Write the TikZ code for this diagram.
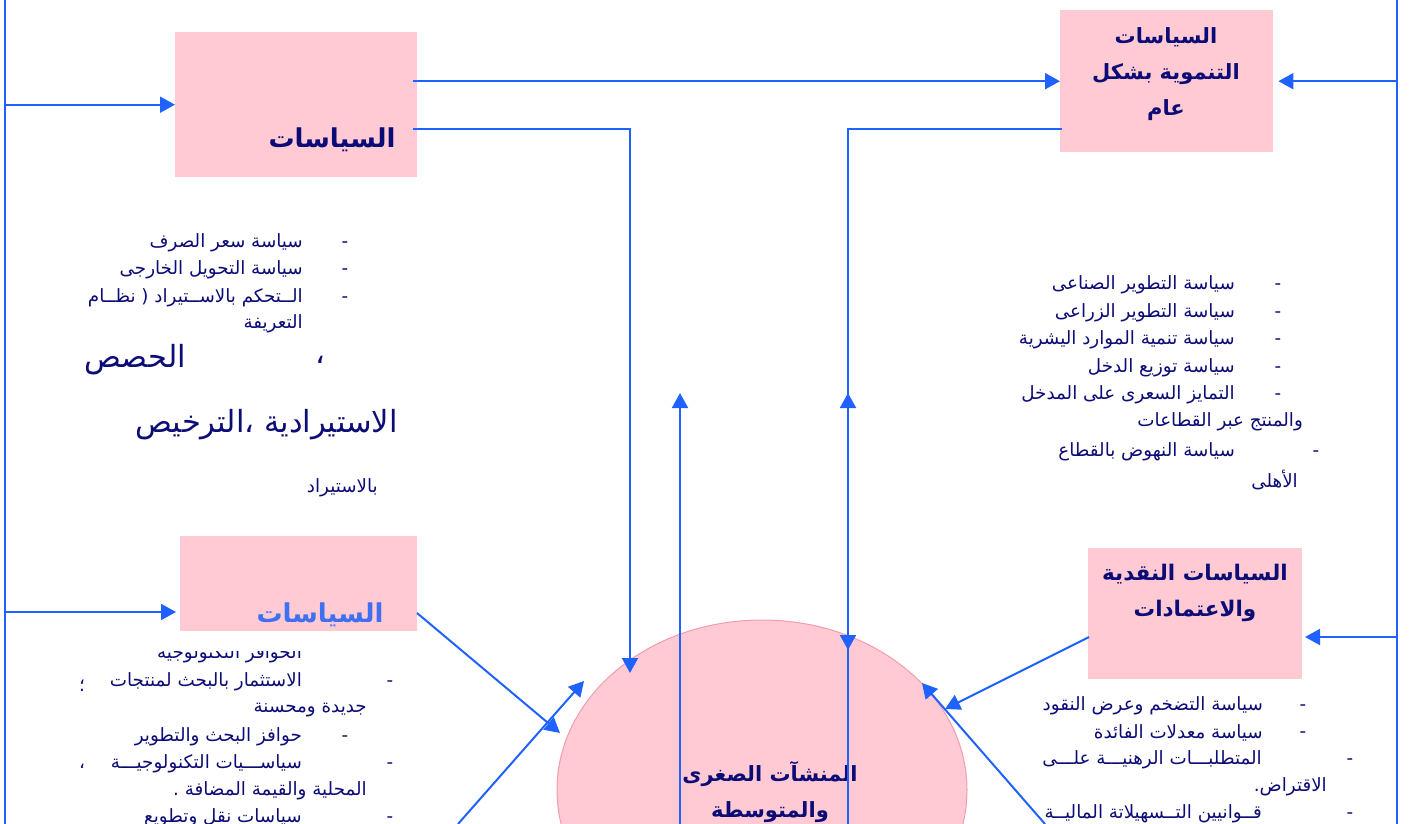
\documentclass[tikz,border=0pt]{standalone}
\usepackage{fontspec}
\setmainfont{DejaVu Sans}
\newfontfamily\arabicfont[Script=Arabic]{DejaVu Sans}
\TeXXeTstate=1
\usetikzlibrary{arrows.meta}
\usetikzlibrary{shapes.geometric}
\definecolor{linkblue}{RGB}{32,98,255}
\definecolor{boxpink}{RGB}{255,202,212}
\definecolor{rimpink}{RGB}{244,156,174}
\definecolor{inkblue}{RGB}{12,12,118}
\definecolor{titleblue}{RGB}{62,112,240}
\newcommand{\artxt}[1]{{\arabicfont\beginR #1\endR}}

\begin{document}
\begin{tikzpicture}[x=1pt, y=-1pt,
    link/.style={linkblue, line width=2pt},
    tipped/.style={-{Triangle[length=15pt, width=16pt]}},
    polbox/.style={fill=boxpink, draw=none, anchor=north west, inner sep=0pt},
    boxtitle/.style={text=inkblue, font=\bfseries\fontsize{21}{36}\selectfont, align=center, inner sep=0pt},
    listitem/.style={text=inkblue, font=\fontsize{18.3}{21}\selectfont, anchor=east, inner sep=0pt, yshift=-2pt},
    bigitem/.style={text=inkblue, font=\fontsize{30.5}{34}\selectfont, anchor=east, inner sep=0pt},
    bullet/.style={text=inkblue, font=\fontsize{18.3}{21}\selectfont, inner sep=0pt, yshift=-4pt}]
    \useasboundingbox (0,0) rectangle (1421,824);

    % Rails on both sides
    \coordinate (railLtop) at (5,0);
    \coordinate (railLbot) at (5,824);
    \coordinate (railRtop) at (1397,0);
    \coordinate (railRbot) at (1397,824);
    \draw[link] (railLtop) -- (railLbot);
    \draw[link] (railRtop) -- (railRbot);

    % Boxes
    \node[polbox, minimum width=242, minimum height=145] (pol) at (175,32) {};
    \node[polbox, minimum width=213, minimum height=142] (dev) at (1060,10) {};
    \node[polbox, minimum width=237, minimum height=95] (tech) at (180,536) {};
    \node[polbox, minimum width=214, minimum height=131] (mon) at (1088,548) {};

    \node[boxtitle, font=\bfseries\fontsize{26}{30}\selectfont] (polT) at (332,140) {\artxt{السياسات}};
    \node[boxtitle] (devT) at (1166,74) {\artxt{السياسات}\\\artxt{التنموية بشكل}\\\artxt{عام}};
    \node[boxtitle, text=titleblue, font=\bfseries\fontsize{26}{30}\selectfont] (techT) at (320,615) {\artxt{السياسات}};
    \node[boxtitle, font=\bfseries\fontsize{21.5}{36}\selectfont] (monT) at (1195,593) {\artxt{السياسات النقدية}\\\artxt{والاعتمادات}};

    % Enterprises
    \node[ellipse, fill=boxpink, draw=rimpink, line width=1pt, minimum width=410, minimum height=340] (sme) at (762,790) {};
    \node[boxtitle] (smeT) at (770,792) {\artxt{المنشآت الصغرى}\\\artxt{والمتوسطة}};

    % Left rail into the boxes
    \draw[link, tipped] (railLtop |- pol.west) -- (pol.west);
    \coordinate (techIn) at (176,612);
    \draw[link, tipped] (railLtop |- techIn) -- (techIn);

    % Right rail into the boxes
    \draw[link, tipped] (railRtop |- dev.east) -- ([xshift=5]dev.east);
    \coordinate (monIn) at (1305,637);
    \draw[link, tipped] (railRtop |- monIn) -- (monIn);

    % Top links
    \draw[link, tipped] ([xshift=-4]pol.east |- dev.west) -- (dev.west);
    \coordinate (kneeA) at (630,129);
    \coordinate (hitA) at (630,673);
    \draw[link, tipped] ([xshift=-4]pol.east |- kneeA) -- (kneeA) -- (hitA);
    \coordinate (kneeB) at (848,129);
    \coordinate (hitB) at (848,650);
    \draw[link, tipped] ([xshift=2]dev.west |- kneeB) -- (kneeB) -- (hitB);

    % Links coming up from below
    \coordinate (upA) at (680,393);
    \coordinate (upB) at (848,393);
    \draw[link, tipped] (680,824) -- (upA);
    \draw[link, tipped] (848,824) -- (upB);

    % Slanted links at the enterprises
    \coordinate (techOut) at (417,613);
    \coordinate (hitC) at (560,733);
    \draw[link, tipped] (techOut) -- (hitC);
    \coordinate (lowC) at (458,824);
    \coordinate (hitD) at (584,681);
    \draw[link, tipped] (lowC) -- (hitD);
    \coordinate (monOut) at (1089,637);
    \coordinate (hitE) at (945,709);
    \draw[link, tipped] (monOut) -- (hitE);
    \coordinate (lowE) at (1045,824);
    \coordinate (hitF) at (922,683);
    \draw[link, tipped] (lowE) -- (hitF);

    % Trade policy list
    \foreach \y/\t in {241/{سياسة سعر الصرف}, 268/{سياسة التحويل الخارجى}, 296/{الــتحكم بالاســتيراد ( نظــام}, 322/{التعريفة}}
        \node[listitem] (tr\y) at (303,\y) {\artxt{\t}};
    \foreach \y in {241,268,296}
        \node[bullet] (trd\y) at (345,\y) {-};
    \node[bigitem, anchor=center] (comma1) at (320,360) {\artxt{،}};
    \node[bigitem] (quota) at (186,360) {\artxt{الحصص}};
    \node[bigitem] (licence) at (398,425) {\artxt{الاستيرادية ،الترخيص}};
    \node[listitem] (byimp) at (378,486) {\artxt{بالاستيراد}};

    % Technology policy list
    \begin{scope}
        \clip (150,651) rectangle (320,664);
        \node[listitem] (techsub) at (302,652) {\artxt{الحوافز التكنولوجية}};
    \end{scope}
    \foreach \y/\x/\t in {680/302/{الاستثمار بالبحث لمنتجات}, 708/367/{جديدة ومحسنة}, 735/302/{حوافز البحث والتطوير},
                          762/302/{سياســـيات التكنولوجيـــة}, 789/367/{المحلية والقيمة المضافة .}, 816/302/{سياسات نقل وتطويع}}
        \node[listitem] (te\y) at (\x,\y) {\artxt{\t}};
    \foreach \y/\x in {680/390, 735/345, 762/390, 816/390}
        \node[bullet] (ted\y) at (\x,\y) {-};
    \node[bullet] (semi) at (82,682) {\artxt{؛}};
    \node[bullet] (comma2) at (82,762) {\artxt{،}};

    % Development policy list
    \foreach \y/\x/\t in {283/1235/{سياسة التطوير الصناعى}, 311/1235/{سياسة التطوير الزراعى}, 338/1235/{سياسة تنمية الموارد اليشرية},
                          366/1235/{سياسة توزيع الدخل}, 393/1235/{التمايز السعرى على المدخل}, 420/1303/{والمنتج عبر القطاعات},
                          450/1235/{سياسة النهوض بالقطاع}, 478/1298/{الأهلى}}
        \node[listitem] (dv\y) at (\x,\y) {\artxt{\t}};
    \foreach \y/\x in {283/1278, 311/1278, 338/1278, 366/1278, 393/1278, 450/1316}
        \node[bullet] (dvd\y) at (\x,\y) {-};

    % Monetary policy list
    \foreach \y/\x/\t in {704/1263/{سياسة التضخم وعرض النقود}, 731/1263/{سياسة معدلات الفائدة}, 758/1262/{المتطلبـــات الرهنيـــة علـــى},
                          785/1327/{الاقتراض.}, 812/1262/{قــوانيين التــسهيلاتة الماليــة}}
        \node[listitem] (mo\y) at (\x,\y) {\artxt{\t}};
    \foreach \y/\x in {704/1303, 731/1303, 758/1350, 812/1350}
        \node[bullet] (mod\y) at (\x,\y) {-};
\end{tikzpicture}
\end{document}
